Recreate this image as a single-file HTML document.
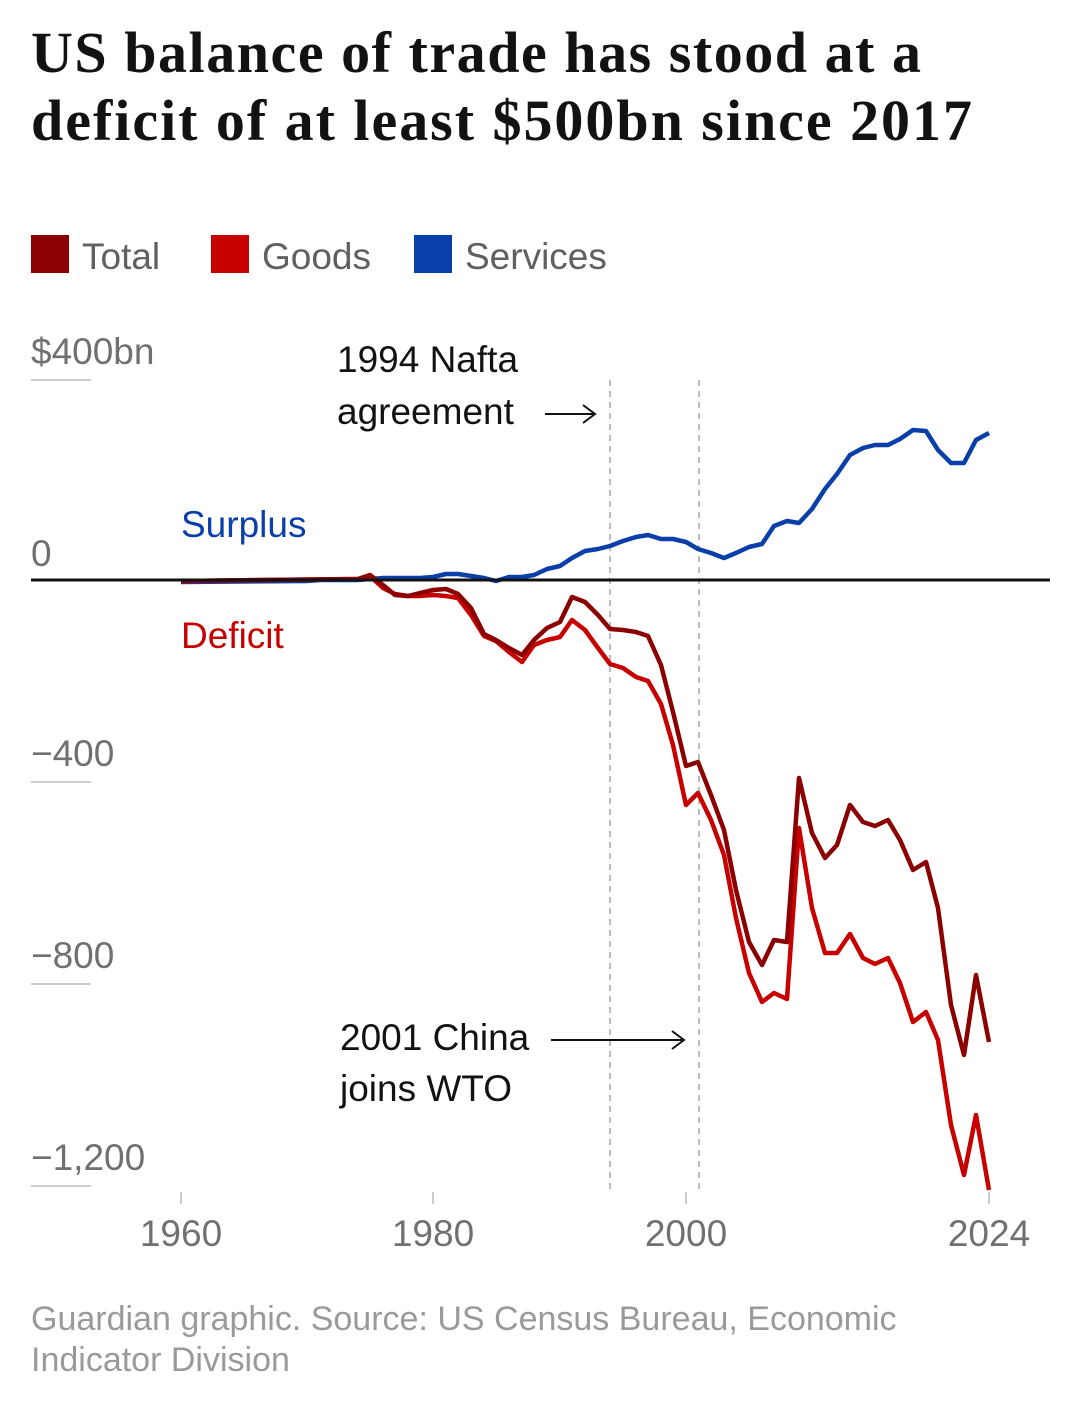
<!DOCTYPE html>
<html><head><meta charset="utf-8"><style>
body{margin:0;background:#fff;width:1080px;height:1406px;overflow:hidden}
svg{display:block}
</style></head><body>
<svg width="1080" height="1406" xmlns="http://www.w3.org/2000/svg" font-family="Liberation Sans, sans-serif">
<text x="31" y="72" font-family="Liberation Serif, serif" font-weight="bold" font-size="58" textLength="890" lengthAdjust="spacing" fill="#121212">US balance of trade has stood at a</text>
<text x="31" y="140" font-family="Liberation Serif, serif" font-weight="bold" font-size="58" textLength="941" lengthAdjust="spacing" fill="#121212">deficit of at least $500bn since 2017</text>
<rect x="31" y="235" width="38" height="38" fill="#8b0000"/>
<text x="82" y="269" font-size="37" fill="#606060">Total</text>
<rect x="211" y="235" width="38" height="38" fill="#c70000"/>
<text x="262" y="269" font-size="37" fill="#606060">Goods</text>
<rect x="414" y="235" width="38" height="38" fill="#0a3ea8"/>
<text x="465" y="269" font-size="37" fill="#606060">Services</text>
<g font-size="37" fill="#707070">
<text x="31" y="364">$400bn</text>
<text x="31" y="566">0</text>
<text x="31" y="766">−400</text>
<text x="31" y="968">−800</text>
<text x="31" y="1170">−1,200</text>
</g>
<g stroke="#bbb" stroke-width="1.5">
<line x1="31" x2="91" y1="380" y2="380"/><line x1="31" x2="91" y1="782" y2="782"/><line x1="31" x2="91" y1="984" y2="984"/><line x1="31" x2="91" y1="1186" y2="1186"/>
<line x1="181" x2="181" y1="1192" y2="1204"/><line x1="433" x2="433" y1="1192" y2="1204"/><line x1="686" x2="686" y1="1192" y2="1204"/><line x1="989" x2="989" y1="1192" y2="1204"/>
</g>
<g font-size="37" fill="#707070" text-anchor="middle">
<text x="181" y="1246">1960</text><text x="433" y="1246">1980</text><text x="686" y="1246">2000</text><text x="989" y="1246">2024</text>
</g>
<g stroke="#bbb" stroke-width="2" stroke-dasharray="6,5">
<line x1="610" x2="610" y1="380" y2="1190"/><line x1="699" x2="699" y1="380" y2="1190"/>
</g>
<g font-size="37" fill="#121212">
<text x="337" y="372">1994 Nafta</text><text x="337" y="424">agreement</text>
<text x="340" y="1050">2001 China</text><text x="340" y="1101">joins WTO</text>
</g>
<g stroke="#121212" stroke-width="2" fill="none">
<line x1="545" x2="595" y1="414" y2="414"/><polyline points="583,405 595,414 583,423"/>
<line x1="551" x2="684" y1="1040" y2="1040"/><polyline points="672,1031 684,1040 672,1049"/>
</g>
<text x="181" y="537" font-size="37" fill="#0a3ea8">Surplus</text>
<text x="181" y="648" font-size="37" fill="#c70000">Deficit</text>
<g fill="none" stroke-width="4.5" stroke-linejoin="round">
<polyline stroke="#0a3ea8" points="181,582 307,581 320,580 358,580 370,579 383,578 408,578 420,578 433,577 446,574 458,574 471,576 484,578 496,581 509,577 522,577 534,575 547,569 560,566 572,558 585,551 598,549 610,546 623,541 636,537 648,535 661,539 673,539 686,542 698,549 711,553 724,558 736,553 749,547 762,544 774,526 787,521 799,523 812,509 825,489 837,474 850,455 863,448 875,445 888,445 900,439 913,430 926,431 938,450 951,463 964,463 976,440 989,433"/>
<polyline stroke="#c70000" points="181,581 358,579 370,576 383,588 395,594 408,596 420,596 433,595 446,596 458,598 471,615 484,636 496,641 509,652 522,662 534,645 547,640 560,637 572,620 585,630 598,648 610,664 623,668 636,677 648,681 661,704 673,745 686,805 698,793 711,820 724,855 736,918 749,973 762,1002 774,993 787,999 799,828 812,908 825,953 837,953 850,934 863,958 875,964 888,958 900,983 913,1022 926,1012 938,1040 951,1125 964,1175 976,1115 989,1190"/>
<polyline stroke="#8b0000" points="181,581 358,579 370,575 383,585 395,595 408,596 420,593 433,590 446,589 458,594 471,608 484,634 496,640 509,648 522,655 534,640 547,628 560,622 572,597 585,602 598,615 610,629 623,630 636,632 648,636 661,665 673,712 686,766 698,762 711,795 724,830 736,890 749,942 762,965 774,940 787,942 799,778 812,833 825,858 837,845 850,805 863,822 875,826 888,820 900,840 913,870 926,862 938,908 951,1005 964,1055 976,975 989,1042"/>
</g>
<line x1="31" x2="1050" y1="580" y2="580" stroke="#121212" stroke-width="3"/>
<text x="31" y="1330" font-size="34" fill="#9a9a9a">Guardian graphic. Source: US Census Bureau, Economic</text>
<text x="31" y="1371" font-size="34" fill="#9a9a9a">Indicator Division</text>
</svg>
</body></html>
